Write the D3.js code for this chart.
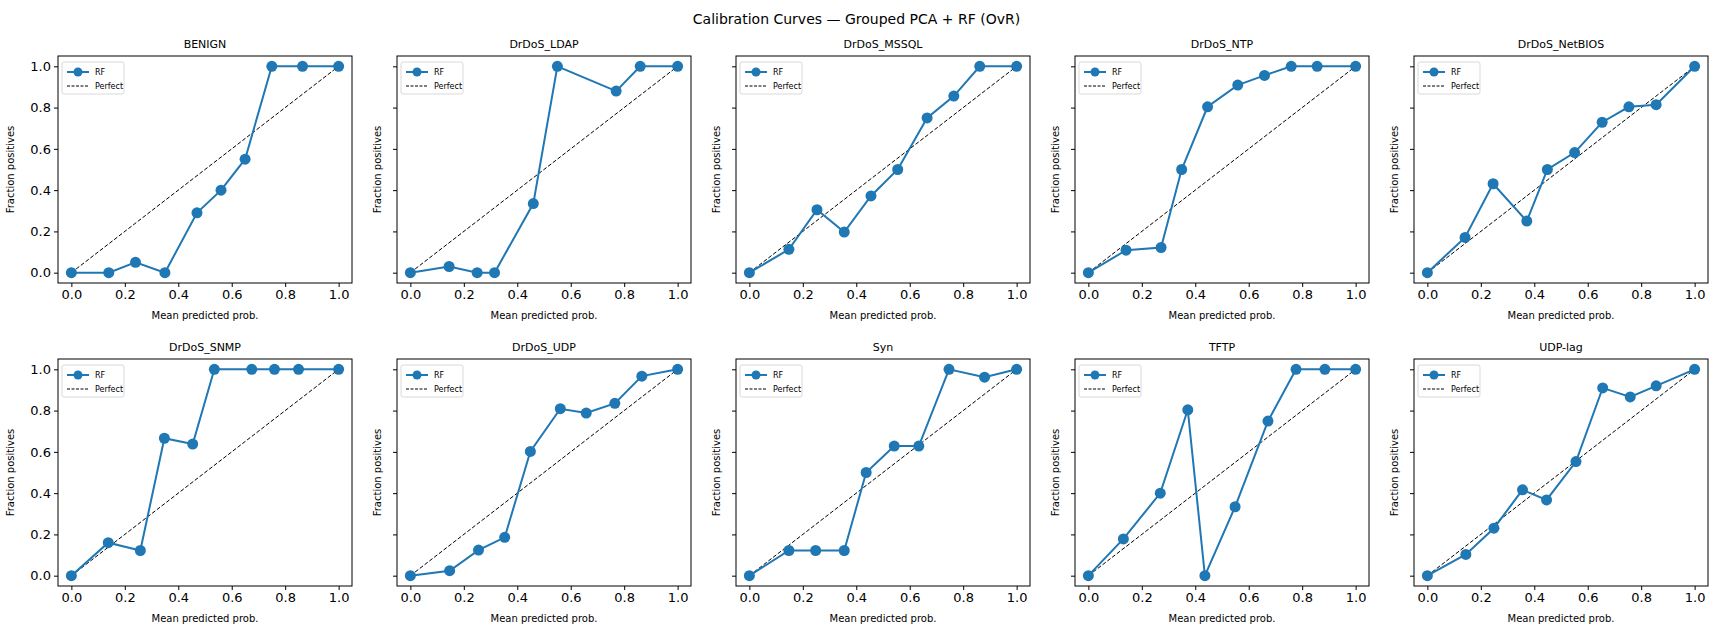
<!DOCTYPE html>
<html><head><meta charset="utf-8">
<script src="https://cdn.jsdelivr.net/npm/d3@7"></script>
<style>body{margin:0;background:#fff;font-family:"DejaVu Sans",sans-serif}</style>
</head><body><div id="chart"></div>
<script>
var classes = ["BENIGN","DrDoS_LDAP","DrDoS_MSSQL","DrDoS_NTP","DrDoS_NetBIOS","DrDoS_SNMP","DrDoS_UDP","Syn","TFTP","UDP-lag"];
var meanPred = [
  [0,0.14,0.24,0.35,0.47,0.56,0.65,0.75,0.865,1],
  [0,0.145,0.25,0.315,0.46,0.55,0.77,0.86,1],
  [0,0.148,0.253,0.355,0.455,0.555,0.665,0.765,0.862,1],
  [0,0.141,0.272,0.349,0.446,0.559,0.659,0.759,0.856,1],
  [0,0.141,0.246,0.372,0.449,0.551,0.654,0.754,0.856,1],
  [0,0.138,0.258,0.348,0.454,0.535,0.675,0.76,0.85,1],
  [0,0.147,0.255,0.353,0.449,0.561,0.658,0.765,0.866,1],
  [0,0.148,0.248,0.355,0.437,0.542,0.634,0.747,0.88,1],
  [0,0.131,0.269,0.372,0.436,0.549,0.672,0.777,0.885,1],
  [0,0.144,0.249,0.356,0.446,0.556,0.656,0.759,0.856,1]
];
var fracPos = [
  [0,0,0.05,0,0.29,0.40,0.55,1,1,1],
  [0,0.03,0,0,0.335,1,0.88,1,1],
  [0,0.113,0.305,0.197,0.372,0.5,0.75,0.856,1,1],
  [0,0.109,0.122,0.5,0.804,0.909,0.956,1,1,1],
  [0,0.171,0.431,0.25,0.5,0.582,0.729,0.804,0.814,1],
  [0,0.16,0.122,0.666,0.638,1,1,1,1,1],
  [0,0.024,0.124,0.186,0.602,0.809,0.788,0.835,0.967,1],
  [0,0.122,0.122,0.122,0.5,0.628,0.628,1,0.962,1],
  [0,0.178,0.4,0.804,0,0.334,0.749,1,1,1],
  [0,0.103,0.23,0.416,0.367,0.553,0.91,0.866,0.92,1]
];
var ticks = [0,0.2,0.4,0.6,0.8,1.0];

var W = 1713, H = 632, blue = "#1f77b4";
var svg = d3.select("#chart").append("svg").attr("width", W).attr("height", H);
svg.append("text").attr("x", W/2).attr("y", 24).attr("text-anchor","middle")
  .attr("font-size","14px").text("Calibration Curves \u2014 Grouped PCA + RF (OvR)");

var pw = 294, ph = 227, pitch = 339, left0 = 58, tops = [56, 359];

classes.forEach(function(name, i){
  var col = i % 5, row = Math.floor(i / 5);
  var g = svg.append("g").attr("transform","translate(" + (left0 + col*pitch) + "," + tops[row] + ")");
  var x = d3.scaleLinear().domain([-0.05,1.05]).range([0,pw]);
  var y = d3.scaleLinear().domain([-0.05,1.05]).range([ph,0]);

  var xa = g.append("g").attr("transform","translate(0," + ph + ")")
    .call(d3.axisBottom(x).tickValues(ticks).tickFormat(d3.format(".1f")).tickSize(4).tickSizeOuter(0));
  var ya = g.append("g").call(d3.axisLeft(y).tickValues(ticks)
    .tickFormat(col === 0 ? d3.format(".1f") : "").tickSize(4).tickSizeOuter(0));
  [xa, ya].forEach(function(a){
    a.select(".domain").remove();
    a.selectAll("text").attr("font-size","13px").attr("font-family","DejaVu Sans").attr("fill","#000");
    a.selectAll("line").attr("stroke","#000");
  });

  g.append("line").attr("x1", x(0)).attr("y1", y(0)).attr("x2", x(1)).attr("y2", y(1))
    .attr("stroke","#000").attr("stroke-width",1).attr("stroke-dasharray","4,2");

  var pts = meanPred[i].map(function(m, k){ return [m, fracPos[i][k]]; });
  g.append("path").datum(pts).attr("fill","none").attr("stroke",blue).attr("stroke-width",2)
    .attr("d", d3.line().x(function(d){ return x(d[0]); }).y(function(d){ return y(d[1]); }));
  g.selectAll("circle.pt").data(pts).enter().append("circle").attr("class","pt")
    .attr("cx", function(d){ return x(d[0]); }).attr("cy", function(d){ return y(d[1]); })
    .attr("r", 5.5).attr("fill", blue);

  g.append("rect").attr("width",pw).attr("height",ph).attr("fill","none").attr("stroke","#000").attr("stroke-width",1);

  g.append("text").attr("x", pw/2).attr("y", -8).attr("text-anchor","middle").attr("font-size","11px").text(name);
  g.append("text").attr("x", pw/2).attr("y", ph + 36).attr("text-anchor","middle").attr("font-size","10px").text("Mean predicted prob.");
  var yl = col === 0 ? -44 : -16;
  g.append("text").attr("transform","translate(" + yl + "," + (ph/2) + ") rotate(-90)")
    .attr("text-anchor","middle").attr("font-size","10px").text("Fraction positives");

  // legend
  var lg = g.append("g").attr("transform","translate(4,6)");
  lg.append("rect").attr("width",62).attr("height",32).attr("rx",2).attr("fill","#fff")
    .attr("stroke","#ccc").attr("stroke-width",0.8).attr("opacity",0.9);
  lg.append("line").attr("x1",5).attr("x2",27).attr("y1",10).attr("y2",10).attr("stroke",blue).attr("stroke-width",2);
  lg.append("circle").attr("cx",16).attr("cy",10).attr("r",4.5).attr("fill",blue);
  lg.append("text").attr("x",33).attr("y",13).attr("font-size","8px").text("RF");
  lg.append("line").attr("x1",5).attr("x2",27).attr("y1",24).attr("y2",24).attr("stroke","#000").attr("stroke-dasharray","3,1.5");
  lg.append("text").attr("x",33).attr("y",27).attr("font-size","8px").text("Perfect");
});
</script></body></html>
